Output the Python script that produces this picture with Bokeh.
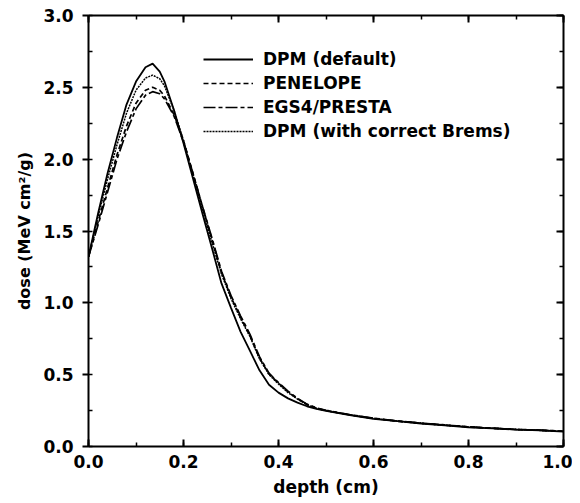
from bokeh.plotting import figure
from bokeh.models import (Range1d, LinearAxis, SingleIntervalTicker, PrintfTickFormatter,
                          CustomJSTickFormatter, Legend, LegendItem)
from bokeh.embed import file_html
from bokeh.resources import INLINE

DEPTH = [0.0, 0.01, 0.02, 0.04, 0.06, 0.08, 0.10, 0.12, 0.135, 0.15, 0.16, 0.18, 0.20,
         0.22, 0.24, 0.26, 0.28, 0.30, 0.32, 0.34, 0.36, 0.38, 0.40, 0.42, 0.44, 0.46,
         0.48, 0.50, 0.55, 0.60, 0.65, 0.70, 0.75, 0.80, 0.85, 0.90, 0.95, 1.00]

DPM_DEFAULT = [1.32, 1.47, 1.62, 1.90, 2.15, 2.38, 2.54, 2.64, 2.665, 2.61, 2.54, 2.34, 2.11,
               1.865, 1.62, 1.38, 1.135, 0.965, 0.80, 0.665, 0.53, 0.43, 0.375, 0.335, 0.305, 0.28,
               0.262, 0.248, 0.218, 0.192, 0.176, 0.160, 0.147, 0.134, 0.126, 0.118, 0.113, 0.104]

PENELOPE = [1.32, 1.44, 1.56, 1.80, 2.03, 2.23, 2.39, 2.48, 2.50, 2.48, 2.44, 2.31, 2.13,
            1.90, 1.67, 1.44, 1.21, 1.04, 0.90, 0.77, 0.615, 0.505, 0.44, 0.38, 0.332, 0.292,
            0.266, 0.25, 0.22, 0.196, 0.176, 0.162, 0.149, 0.136, 0.127, 0.118, 0.113, 0.106]

EGS4_PRESTA = [1.32, 1.43, 1.54, 1.77, 2.00, 2.19, 2.35, 2.445, 2.47, 2.455, 2.42, 2.30, 2.12,
               1.90, 1.67, 1.45, 1.22, 1.05, 0.91, 0.78, 0.625, 0.51, 0.445, 0.385, 0.335, 0.295,
               0.268, 0.252, 0.222, 0.197, 0.178, 0.163, 0.150, 0.137, 0.128, 0.119, 0.114, 0.106]

DPM_BREMS = [1.32, 1.46, 1.60, 1.86, 2.10, 2.32, 2.48, 2.565, 2.585, 2.56, 2.51, 2.34, 2.13,
             1.89, 1.65, 1.42, 1.20, 1.03, 0.89, 0.765, 0.61, 0.50, 0.435, 0.375, 0.33, 0.29,
             0.265, 0.25, 0.22, 0.195, 0.177, 0.161, 0.148, 0.136, 0.127, 0.119, 0.112, 0.105]

LABELS = ["DPM (default)", "PENELOPE", "EGS4/PRESTA", "DPM (with correct Brems)"]

FONT = "DejaVu Sans"

p = figure(width=572, height=500, x_range=Range1d(0, 1), y_range=Range1d(0, 3),
           output_backend="svg", toolbar_location=None,
           min_border_left=88, min_border_right=9, min_border_top=15, min_border_bottom=54)
p.grid.visible = False
p.outline_line_color = None
p.background_fill_color = "white"

xt = SingleIntervalTicker(interval=0.2, num_minor_ticks=2)
yt = SingleIntervalTicker(interval=0.5, num_minor_ticks=2)

def style(ax, ticker, labels=True, outer_major=False):
    ax.ticker = ticker
    ax.axis_line_width = 2
    ax.axis_line_color = "black"
    ax.major_tick_line_width = 2
    ax.minor_tick_line_width = 1.5
    ax.major_tick_line_color = "black"
    ax.minor_tick_line_color = "black"
    ax.minor_tick_in = 4
    ax.minor_tick_out = 0
    if outer_major:
        ax.major_tick_in = 0
        ax.major_tick_out = 6
    else:
        ax.major_tick_in = 7
        ax.major_tick_out = 0
    if labels:
        ax.formatter = PrintfTickFormatter(format="%.1f")
        ax.major_label_text_font = FONT
        ax.major_label_text_font_style = "bold"
        ax.major_label_text_font_size = "17px"
        ax.major_label_text_color = "black"
        ax.axis_label_text_font = FONT
        ax.axis_label_text_font_style = "bold"
        ax.axis_label_text_color = "black"
    else:
        ax.formatter = CustomJSTickFormatter(code="return '';")
        ax.major_label_standoff = 0

bx = p.xaxis[0]
ly = p.yaxis[0]
style(bx, xt)
style(ly, yt, outer_major=True)
bx.axis_label = "depth (cm)"
bx.axis_label_text_font_size = "17px"
bx.major_label_standoff = 8
bx.axis_label_standoff = 6
ly.axis_label = "dose (MeV cm\u00b2/g)"
ly.axis_label_text_font_size = "16px"
ly.major_label_standoff = 9
ly.axis_label_standoff = 6

top = LinearAxis()
style(top, SingleIntervalTicker(interval=0.2, num_minor_ticks=2), labels=False)
p.add_layout(top, "above")
right = LinearAxis()
style(right, SingleIntervalTicker(interval=0.5, num_minor_ticks=2), labels=False)
p.add_layout(right, "right")

r1 = p.line(DEPTH, DPM_DEFAULT, line_color="black", line_width=1.8)
r2 = p.line(DEPTH, PENELOPE, line_color="black", line_width=1.7, line_dash="5 3")
r3 = p.line(DEPTH, EGS4_PRESTA, line_color="black", line_width=1.7, line_dash="12 3 4 3")
r4 = p.line(DEPTH, DPM_BREMS, line_color="black", line_width=1.5, line_dash="2 1")

legend = Legend(items=[LegendItem(label=l, renderers=[r]) for l, r in zip(LABELS, [r1, r2, r3, r4])],
                location=(115, 305), orientation="vertical")
legend.border_line_color = None
legend.background_fill_alpha = 0
legend.padding = 0
legend.margin = 0
legend.spacing = 4
legend.glyph_width = 50
legend.glyph_height = 20
legend.label_height = 20
legend.label_standoff = 10
legend.label_text_font = FONT
legend.label_text_font_style = "bold"
legend.label_text_font_size = "17px"
legend.label_text_color = "black"
p.add_layout(legend, "center")

open("out.html", "w").write(file_html(p, INLINE))
